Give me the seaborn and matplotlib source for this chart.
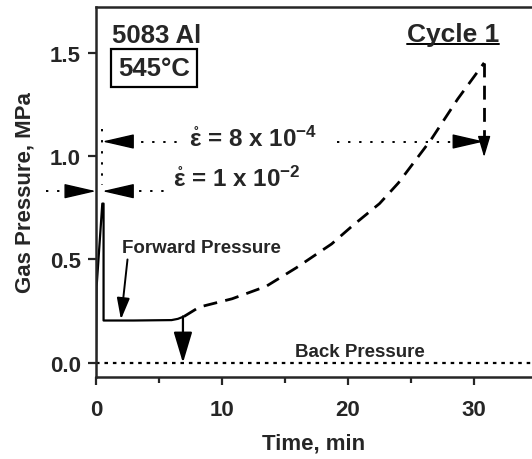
import matplotlib
matplotlib.use("Agg")
import matplotlib.pyplot as plt
import seaborn as sns
import numpy as np
import pandas as pd

# ---------------- data ----------------
# Forward pressure, solid (measured) segment
solid_time = [0.0, 0.05, 0.5, 0.6, 0.6, 3.0, 6.0, 6.5, 7.0]
solid_pres = [0.0, 0.37, 0.77, 0.77, 0.205, 0.205, 0.207, 0.213, 0.225]
# Forward pressure, dashed segment
dash_time = [7.0, 8.2, 10.8, 13.5, 15.9, 18.7, 20.3, 22.5, 24.0, 26.6, 28.7, 30.8]
dash_pres = [0.225, 0.27, 0.31, 0.37, 0.46, 0.575, 0.66, 0.77, 0.87, 1.08, 1.275, 1.45]
# Back pressure
back_time = [0.0, 34.6]
back_pres = [0.0, 0.0]

x_ticks = [0, 10, 20, 30]
x_minor = [5, 15, 25]
y_ticks = [0.0, 0.5, 1.0, 1.5]
y_ticklabels = ["0.0", "0.5", "1.0", "1.5"]

# ---------------- style ----------------
sns.set_style("ticks")
plt.rcParams["font.family"] = ["Liberation Sans", "DejaVu Sans"]
plt.rcParams["font.weight"] = "bold"
plt.rcParams["mathtext.fontset"] = "custom"
plt.rcParams["mathtext.rm"] = "Liberation Sans:bold"
plt.rcParams["mathtext.it"] = "Liberation Sans:bold"
plt.rcParams["mathtext.bf"] = "Liberation Sans:bold"
plt.rcParams["mathtext.default"] = "regular"

fig = plt.figure(figsize=(5.32, 4.6), dpi=100)
ax = fig.add_axes([96 / 532, 1 - 378 / 460, 436 / 532, 370 / 460])

solid_df = pd.DataFrame({"t": solid_time, "p": solid_pres})
dash_df = pd.DataFrame({"t": dash_time, "p": dash_pres})
back_df = pd.DataFrame({"t": back_time, "p": back_pres})

sns.lineplot(data=solid_df, x="t", y="p", ax=ax, color="black", lw=1.6,
             sort=False, estimator=None)
sns.lineplot(data=dash_df, x="t", y="p", ax=ax, color="black", lw=2.0,
             sort=False, estimator=None, dashes=False, linestyle=(0, (5, 3)))
sns.lineplot(data=back_df, x="t", y="p", ax=ax, color="black", lw=1.6,
             sort=False, estimator=None, linestyle=(0, (1.6, 2.2)))

ax.set_xlim(0, 34.6)
ax.set_ylim(-0.068, 1.72)
ax.set_xticks(x_ticks)
ax.set_xticks(x_minor, minor=True)
ax.set_yticks(y_ticks)
ax.set_yticklabels(y_ticklabels)
ax.tick_params(axis="both", which="major", length=6, width=1.6, labelsize=16, pad=5)
ax.tick_params(axis="x", which="minor", length=4, width=1.6)
ax.tick_params(axis="x", which="major", pad=10)
for s in ["left", "top", "bottom"]:
    ax.spines[s].set_linewidth(1.8)
    ax.spines[s].set_visible(True)
ax.spines["right"].set_visible(False)

ax.set_xlabel("Time, min", fontsize=16, fontweight="bold", labelpad=9)
ax.set_ylabel("Gas Pressure, MPa", fontsize=16, fontweight="bold", labelpad=10)


def head(tip, base, hl=1.0, hw=0.23, ms=20):
    ax.annotate("", xy=tip, xytext=base, annotation_clip=False,
                arrowprops=dict(arrowstyle=f"-|>,head_length={hl},head_width={hw}",
                                mutation_scale=ms, color="black", lw=1.0,
                                shrinkA=0, shrinkB=0))


def dotted(xs, ys):
    ax.plot(xs, ys, color="black", lw=1.4, linestyle=(0, (1.2, 4.5)), clip_on=False)


# strain-rate 8e-4 arrow
dotted([2.7, 7.0], [1.07, 1.07])
dotted([19.1, 28.6], [1.07, 1.07])
head((0.5, 1.07), (2.7, 1.07))
head((30.8, 1.07), (28.6, 1.07))
dotted([0.5, 0.5], [1.13, 0.86])
ax.text(7.4, 1.048, r"$\mathring{\varepsilon}$ = 8 x 10$^{-4}$", fontsize=17.5,
        fontweight="bold", ha="left", va="baseline")

# strain-rate 1e-2 arrows
dotted([-4.0, -2.2], [0.83, 0.83])
head((0.0, 0.83), (-2.2, 0.83))
head((0.5, 0.83), (2.5, 0.83))
dotted([2.5, 5.5], [0.83, 0.83])
ax.text(6.1, 0.855, r"$\mathring{\varepsilon}$ = 1 x 10$^{-2}$", fontsize=17.5,
        fontweight="bold", ha="left", va="baseline")

# end of cycle drop at 31 min
ax.plot([30.8, 30.8], [1.45, 1.08], color="black", lw=2.0, linestyle=(0, (5, 3)))
head((30.8, 0.995), (30.8, 1.08), hl=1.0, hw=0.3, ms=13)

# down arrow at 7 min
ax.annotate("", xy=(6.9, 0.0), xytext=(6.9, 0.225),
            arrowprops=dict(arrowstyle="-|>,head_length=1.0,head_width=0.3",
                            mutation_scale=19, color="black", lw=1.6,
                            shrinkA=0, shrinkB=0))

# Forward Pressure label + arrow
ax.text(2.05, 0.536, "Forward Pressure", fontsize=13.5, fontweight="bold",
        ha="left", va="baseline")
ax.annotate("", xy=(1.98, 0.21), xytext=(2.5, 0.50),
            arrowprops=dict(arrowstyle="-|>,head_length=1.0,head_width=0.3",
                            mutation_scale=13, color="black", lw=1.4,
                            shrinkA=0, shrinkB=0))

ax.text(15.8, 0.035, "Back Pressure", fontsize=13.5, fontweight="bold",
        ha="left", va="baseline")

ax.text(1.26, 1.55, "5083 Al", fontsize=18.5, fontweight="bold",
        ha="left", va="baseline")
ax.text(4.62, 1.39, "545°C", fontsize=18.5, fontweight="bold",
        ha="center", va="baseline",
        bbox=dict(boxstyle="square,pad=0.28", fc="white", ec="black", lw=1.6))

ax.text(24.7, 1.556, "Cycle 1", fontsize=19, fontweight="bold",
        ha="left", va="baseline")
ax.plot([24.7, 32.0], [1.54, 1.54], color="black", lw=1.4, clip_on=False)

fig.savefig("out.png", dpi=100)
